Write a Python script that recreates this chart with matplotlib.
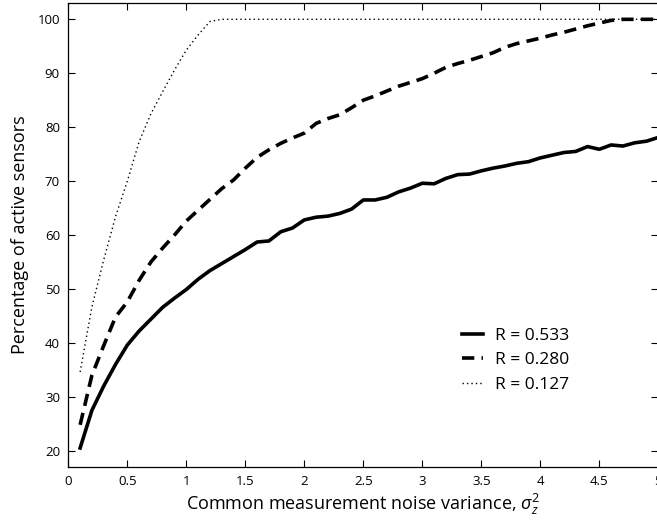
import matplotlib
matplotlib.use("Agg")
import matplotlib.pyplot as plt
import numpy as np

plt.rcParams['font.family'] = ['Open Sans', 'DejaVu Sans']
plt.rcParams['mathtext.fontset'] = 'custom'
plt.rcParams['mathtext.rm'] = 'Open Sans'
plt.rcParams['mathtext.it'] = 'Open Sans:italic'

noise_var = [round(0.1 * i, 1) for i in range(1, 51)]

r_0533 = [20.5, 27.5, 32.0, 36.0, 39.6, 42.2, 44.4, 46.6, 48.3, 49.9,
          51.8, 53.4, 54.7, 56.0, 57.3, 58.7, 58.9, 60.6, 61.3, 62.8,
          63.3, 63.5, 64.0, 64.8, 66.5, 66.5, 67.0, 68.0, 68.7, 69.6,
          69.5, 70.5, 71.2, 71.3, 71.9, 72.4, 72.8, 73.3, 73.6, 74.3,
          74.8, 75.3, 75.5, 76.4, 75.9, 76.7, 76.5, 77.1, 77.4, 78.1]

r_0280 = [24.8, 34.0, 39.5, 44.8, 47.6, 51.6, 55.0, 57.6, 60.0, 62.6,
          64.6, 66.6, 68.6, 70.2, 72.4, 74.4, 75.8, 77.0, 78.0, 78.9,
          80.7, 81.6, 82.3, 83.6, 85.0, 85.8, 86.7, 87.6, 88.3, 89.0,
          90.0, 91.1, 91.8, 92.4, 93.1, 93.8, 94.8, 95.5, 96.0, 96.5,
          97.1, 97.6, 98.2, 98.8, 99.3, 99.8, 100.0, 100.0, 100.0, 100.0]

r_0127 = [34.6, 46.7, 55.4, 63.4, 70.0, 77.3, 82.5, 86.6, 90.6, 94.3,
          97.1, 99.6, 100.0, 100.0, 100.0, 100.0, 100.0, 100.0, 100.0, 100.0,
          100.0, 100.0, 100.0, 100.0, 100.0, 100.0, 100.0, 100.0, 100.0, 100.0,
          100.0, 100.0, 100.0, 100.0, 100.0, 100.0, 100.0, 100.0, 100.0, 100.0,
          100.0, 100.0, 100.0, 100.0, 100.0, 100.0, 100.0, 100.0, 100.0, 100.0]

labels = ['R = 0.533', 'R = 0.280', 'R = 0.127']
xticks = [0, 0.5, 1, 1.5, 2, 2.5, 3, 3.5, 4, 4.5, 5]
xticklabels = ['0', '0.5', '1', '1.5', '2', '2.5', '3', '3.5', '4', '4.5', '5']
yticks = [20, 30, 40, 50, 60, 70, 80, 90, 100]

fig = plt.figure(figsize=(6.57, 5.24), dpi=100)
ax = fig.add_axes([0.104, 0.109, 0.898, 0.885])

ax.plot(noise_var, r_0533, color='black', lw=2.6, linestyle='-', label=labels[0])
ax.plot(noise_var, r_0280, color='black', lw=2.6, linestyle=(0, (3.4, 2.0)), label=labels[1])
ax.plot(noise_var, r_0127, color='black', lw=1.0, linestyle=(0, (1, 2.2)), label=labels[2])

ax.set_xlim(0, 5)
ax.set_ylim(17, 103)
ax.set_xticks(xticks)
ax.set_xticklabels(xticklabels)
ax.set_yticks(yticks)
ax.tick_params(direction='in', top=True, right=True, length=5, width=0.8,
               labelsize=9.5, pad=6)
for s in ax.spines.values():
    s.set_linewidth(0.9)

ax.set_xlabel(r'Common measurement noise variance, $\sigma_z^2$', fontsize=13, labelpad=3)
ax.set_ylabel('Percentage of active sensors', fontsize=13, labelpad=6)

leg = ax.legend(loc='lower left', bbox_to_anchor=(0.64, 0.125), frameon=False,
                fontsize=12.5, handlelength=1.25, handletextpad=0.65, labelspacing=0.5)

fig.savefig('out.png', dpi=100)
